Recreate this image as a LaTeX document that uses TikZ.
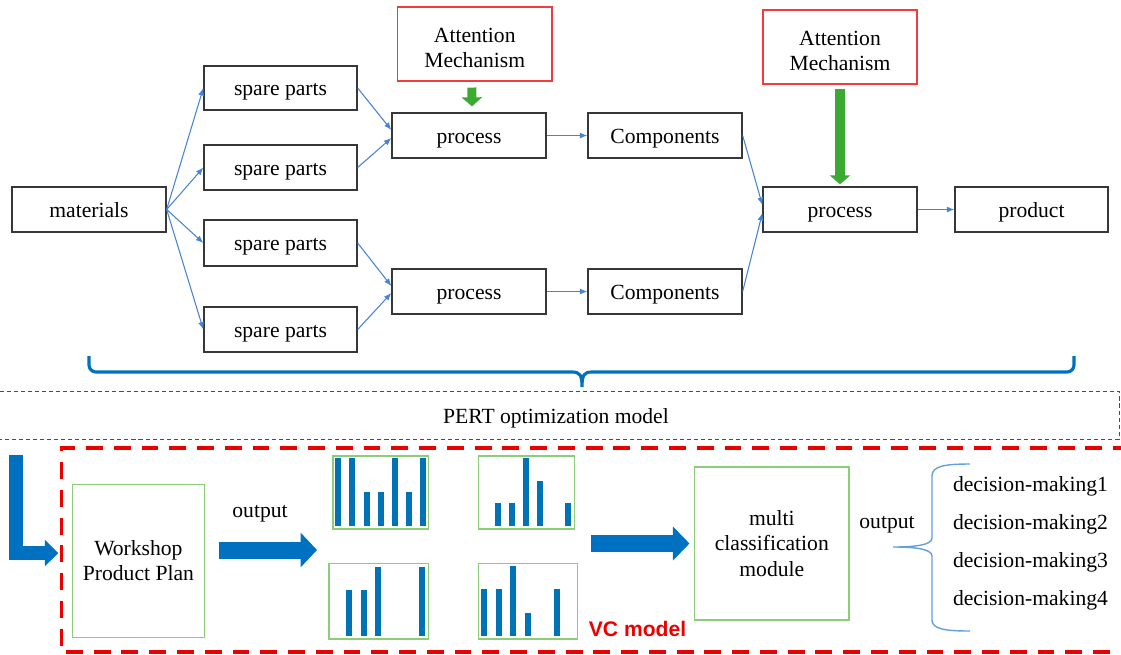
\documentclass[tikz,border=0pt]{standalone}
\usepackage{fontspec}
\setmainfont{Liberation Serif}
\newfontfamily\labelsans{Liberation Sans}
\usetikzlibrary{arrows.meta,calc}

\definecolor{linkblue}{RGB}{68,132,215}
\definecolor{fatblue}{RGB}{0,112,192}
\definecolor{barblue}{RGB}{0,114,182}
\definecolor{attred}{RGB}{240,60,60}
\definecolor{dashred}{RGB}{235,0,0}
\definecolor{framegreen}{RGB}{140,205,120}
\definecolor{arrowgreen}{RGB}{60,170,50}
\definecolor{bracelight}{RGB}{100,160,225}
\definecolor{boxgray}{RGB}{55,55,55}

\tikzset{
  sz/.style 2 args={minimum width=#1*0.02cm, minimum height=#2*0.02cm},
  every node/.style={font=\fontsize{12.3}{14.4}\selectfont, inner sep=0pt},
  oneline/.style={text height=9pt, text depth=0pt},
  stagebox/.style={draw=boxgray, line width=0.75pt, oneline},
  attbox/.style={draw=attred, line width=0.6pt, align=center},
  greenbox/.style={draw=framegreen, line width=0.6pt, align=center},
  link/.style={draw=linkblue, line width=0.6pt, -{Latex[length=0.15cm,width=0.12cm]}},
  greenpush/.style={draw=arrowgreen, -{Triangle[width=0.4cm,length=0.18cm]}},
  fatpush/.style={draw=fatblue, line width=0.34cm, -{Triangle[width=0.68cm,length=0.33cm]}},
  chartframe/.style={draw=framegreen, line width=0.6pt},
  sepline/.style={draw=black!70, line width=0.5pt, dash pattern=on 2.3pt off 1.7pt},
}
\newcommand{\topstrut}{\rule{0pt}{13pt}}

\begin{document}
\begin{tikzpicture}[x=0.02cm, y=-0.02cm]
\useasboundingbox (0,0) rectangle (1121,654);

% ---------------- production network ----------------
\node[stagebox, sz={154}{45}] (mat) at (89,209.5) {materials};
\node[stagebox, sz={153}{44}] (sp1) at (280.5,88) {spare parts};
\node[stagebox, sz={153}{45}] (sp2) at (280.5,167.5) {spare parts};
\node[stagebox, sz={153}{46}] (sp3) at (280.5,243) {spare parts};
\node[stagebox, sz={153}{45}] (sp4) at (280.5,329.5) {spare parts};
\node[stagebox, sz={154}{45}] (pr1) at (469,135.5) {process};
\node[stagebox, sz={154}{45}] (pr2) at (469,291.5) {process};
\node[stagebox, sz={154}{45}] (co1) at (665,135.5) {Components};
\node[stagebox, sz={154}{45}] (co2) at (665,291.5) {Components};
\node[stagebox, sz={154}{45}] (pr3) at (840,209.5) {process};
\node[stagebox, sz={153}{45}] (prod) at (1031.5,209.5) {product};
\node[attbox, sz={154.5}{74}] (at1) at (474.75,44) {\topstrut Attention\\Mechanism};
\node[attbox, sz={154}{74}] (at2) at (840,47) {\topstrut Attention\\Mechanism};

\foreach \s in {sp1,sp2,sp3,sp4} \draw[link] (mat.east) -- (\s.west);
\draw[link] (sp1.east) -- ([yshift=0.11cm]pr1.west);
\draw[link] (sp2.east) -- ([yshift=-0.05cm]pr1.west);
\draw[link] (sp3.east) -- ([yshift=0.11cm]pr2.west);
\draw[link] (sp4.east) -- ([yshift=-0.03cm]pr2.west);
\draw[link] (pr1.east) -- (co1.west);
\draw[link] (pr2.east) -- (co2.west);
\draw[link] (co1.east) -- ([yshift=0.09cm]pr3.west);
\draw[link] (co2.east) -- ([yshift=-0.07cm]pr3.west);
\draw[link] (pr3.east) -- (prod.west);

% attention feeds
\draw[greenpush, line width=0.18cm] ($(at1.south)+(-3,6)$) -- ($(pr1.north)+(3,-6)$);
\draw[greenpush, line width=0.2cm] ($(at2.south)+(0,4)$) -- ($(pr3.north)+(0,-2)$);

% brace gathering the network
\coordinate (brl) at (89,356);
\coordinate (brr) at (1074,356);
\coordinate (brtip) at (582,387);
\draw[fatblue, line width=1.8pt, rounded corners=0.14cm] (brl) -- (89,372) -- (572,372);
\draw[fatblue, line width=1.8pt, rounded corners=0.14cm] (592,372) -- (1074,372) -- (brr);
\draw[fatblue, line width=1.8pt] (572,372) .. controls (580,372) and (582,375) .. (brtip)
  .. controls (582,375) and (584,372) .. (592,372);

% ---------------- PERT band ----------------
\draw[sepline] (0,391) -- (1119,391) -- (1119,439) -- (0,439);
\node[oneline] (pert) at (556,416) {PERT optimization model};

% ---------------- VC model ----------------
\draw[dashred, line width=2.27pt, dash pattern=on 9.6pt off 6.2pt]
  (1130,448) -- (61.5,448) -- (61.5,652) -- (1130,652);
\node[text=dashred, font=\labelsans\bfseries\fontsize{12}{14}\selectfont] (vc) at (637.5,629) {VC model};

\node[greenbox, sz={131.3}{152.7}] (wp) at (138.4,560.7) {Workshop\\Product Plan};
\node[greenbox, sz={154.4}{153}] (mc) at (771.8,543.5) {multi\\classification\\module};

% entry arrow from the PERT stage
\coordinate (lstart) at (15.8,455);
\coordinate (lend) at (58.3,553);
\draw[draw=fatblue, line width=0.27cm, line join=miter, -{Triangle[width=0.52cm,length=0.27cm]}] (lstart) |- (lend);

% output of the plan
\node[oneline] (out1) at (260,510) {output};
\coordinate (chin) at (317,550);
\draw[fatpush, line width=0.34cm] ($(wp.east)+(14,-10.7)$) -- (chin);
\coordinate (chout) at (591,543.5);
\draw[fatpush, -{Triangle[width=0.66cm,length=0.33cm]}] (chout) -- ($(mc.west)+(-4.6,0)$);

% bar charts
\draw[chartframe] (333,456) rectangle (428.5,529);
\foreach \x/\t in {338.3/458,352.3/458,366.5/492,380.5/492,394.7/458,408.7/492,422.7/458}
  \fill[barblue] (\x-3,526) rectangle (\x+3,\t);
\draw[chartframe] (478.3,456) rectangle (574.3,529);
\foreach \x/\t in {498.3/503.3,512.3/503.3,526.3/458.3,540/481,568.3/503.3}
  \fill[barblue] (\x-3,526) rectangle (\x+3,\t);
\draw[chartframe] (329,563.5) rectangle (428.5,639);
\foreach \x/\t in {349.3/590,364.1/590,378.4/567,422.4/567}
  \fill[barblue] (\x-3,636) rectangle (\x+3,\t);
\draw[chartframe] (478.3,563.3) rectangle (577.7,639);
\foreach \x/\t in {484/589.3,498.7/589.3,513.3/566,528/612.7,557.3/589.3}
  \fill[barblue] (\x-3,636) rectangle (\x+3,\t);

% decisions
\node[oneline] (out2) at (887,521) {output};
\coordinate (dtip) at (893,547);
\draw[bracelight, line width=0.8pt]
  (970,464) .. controls (945,464) and (932,466) .. (932,476) -- (932,538)
  .. controls (932,545) and (915,547) .. (dtip)
  .. controls (915,547) and (932,549) .. (932,556) -- (932,620)
  .. controls (932,629) and (945,631) .. (970,631);
\node[oneline, anchor=west] (d1) at (952.7,484) {decision-making1};
\node[oneline, anchor=west] (d2) at (952.7,521.5) {decision-making2};
\node[oneline, anchor=west] (d3) at (952.7,559.5) {decision-making3};
\node[oneline, anchor=west] (d4) at (952.7,597.5) {decision-making4};
\end{tikzpicture}
\end{document}
